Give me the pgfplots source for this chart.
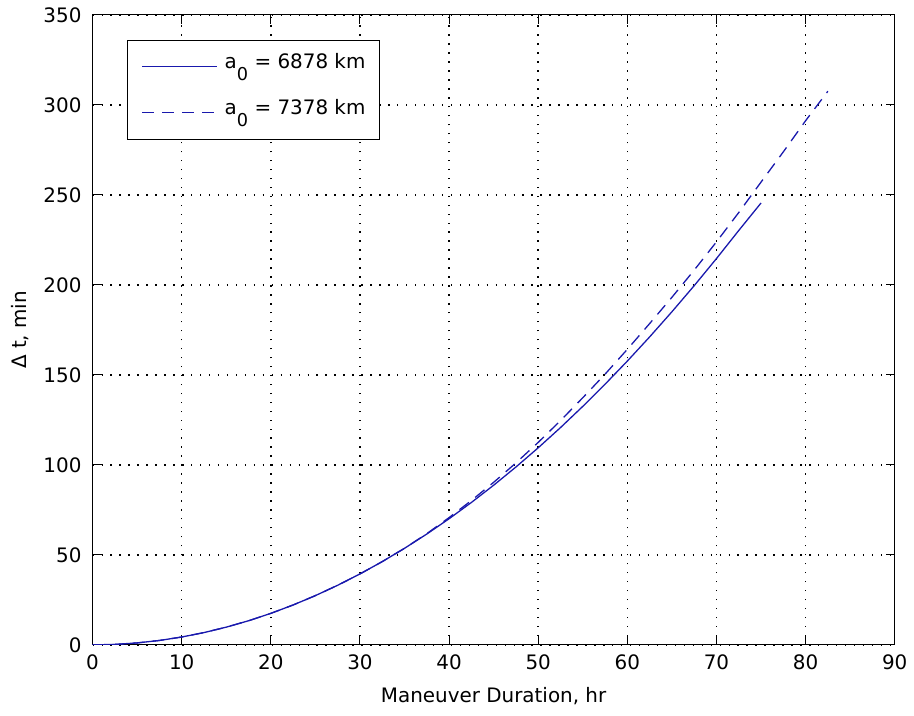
\documentclass[border=0pt]{standalone}
\usepackage{pgfplots}
\pgfplotsset{compat=1.18}
\usepackage{fontspec}
\setmainfont{DejaVu Sans}

\definecolor{curveblue}{rgb}{0.10,0.10,0.68}

% subscripted semi-major axis label
\newcommand{\azero}{a\raisebox{-12pt}{\fontsize{17.8}{18}\selectfont 0}}

\begin{document}
\fontsize{20}{24}\selectfont
\begin{tikzpicture}
\begin{axis}[
  scale only axis,
  width=806pt, height=633pt,
  xmin=0, xmax=90, ymin=0, ymax=350,
  xtick={0,10,...,90},
  ytick={0,50,...,350},
  /pgf/number format/assume math mode=true,
  tick align=inside,
  major tick length=9pt,
  xtick pos=both, ytick pos=both,
  axis line style={line width=1.1pt},
  every tick/.style={black, line width=1.1pt},
  grid=major,
  major grid style={black, line width=1.4pt, dash pattern=on 1.4pt off 7.6pt},
  xticklabel style={yshift=-3.3pt},
  yticklabel style={xshift=-4.3pt},
  xlabel={Maneuver Duration, hr},
  ylabel={Δ t, min},
  xlabel style={at={(axis description cs:0.5,-0.082)}, anchor=center},
  ylabel style={at={(axis description cs:-0.0906,0.5)}, anchor=center},
  legend cell align=left,
  legend image code/.code={\draw[curveblue, line width=1.3pt, #1] (0pt,0pt) -- (75pt,0pt);},
  legend style={at={(axis description cs:0.0434,0.9605)}, anchor=north west,
    draw=black, line width=1.1pt, inner xsep=14pt, inner ysep=13pt,
    row sep=18.8pt, column sep=7pt,
    nodes={inner sep=0pt, text depth=12pt}},
]
% a0 = 6878 km
\addplot[curveblue, line width=1.3pt] coordinates {
 (0,0) (2.5,0.27) (5,1.10) (7.5,2.46) (10,4.38) (12.5,6.84) (15,9.86)
 (17.5,13.41) (20,17.52) (22.5,22.17) (25,27.38) (27.5,33.12) (30,39.42)
 (32.5,46.26) (35,53.66) (37.5,61.59) (40,70.08) (42.5,79.11) (45,88.70)
 (47.5,98.82) (50,109.5) (52.5,120.72) (55,132.50) (57.5,144.81) (60,157.68)
 (62.5,171.09) (65,185.06) (67.5,199.56) (70,214.62) (72.5,230.22) (75,245.5)
};
\addlegendentry{\azero{} = 6878 km}
% a0 = 7378 km
\addplot[curveblue, line width=1.3pt, dash pattern=on 12pt off 8pt] coordinates {
 (0,0) (2.5,0.27) (5,1.10) (7.5,2.46) (10,4.38) (12.5,6.84) (15,9.86)
 (17.5,13.41) (20,17.52) (22.5,22.17) (25,27.38) (27.5,33.12) (30,39.42)
 (32.5,46.26) (35,53.66) (37.5,61.8) (40,70.72) (42.5,80.2) (45,90.3)
 (47.5,101.1) (50,112.5) (52.5,124.6) (55,137.3) (57.5,150.4) (60,164.2)
 (62.5,178.5) (65,193.1) (67.5,208.2) (70,223.9) (72.5,240.2) (75,257.1)
 (77.5,273.9) (80,291.2) (82.5,307.6)
};
\addlegendentry{\azero{} = 7378 km}
\end{axis}
\path ([shift={(-93pt,-71pt)}]current axis.south west)
  rectangle ([shift={(15pt,15pt)}]current axis.north east);
\end{tikzpicture}
\end{document}
